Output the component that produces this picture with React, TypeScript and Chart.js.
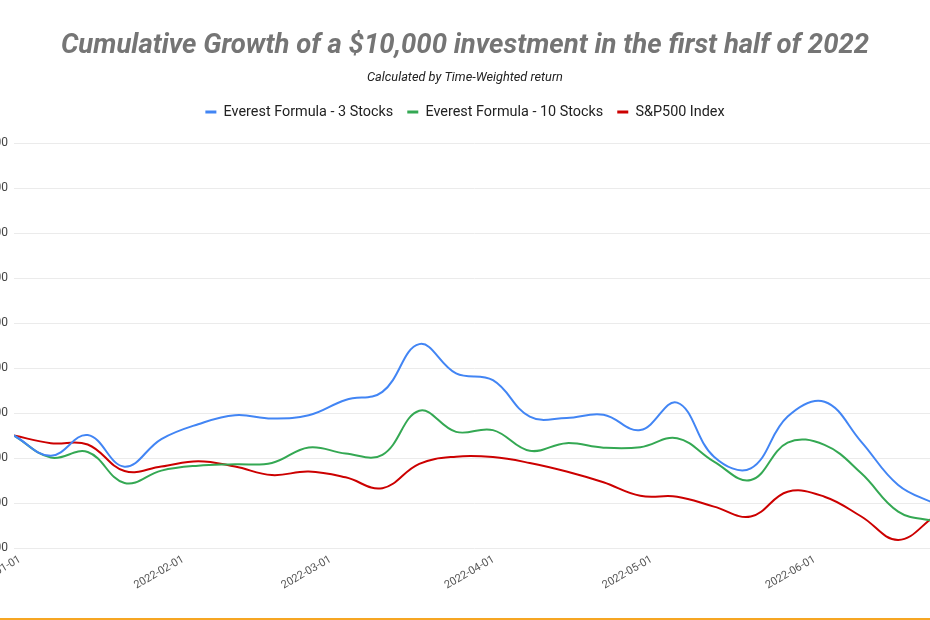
import React, { useEffect, useRef } from 'react';
import { Chart, registerables } from 'chart.js';

Chart.register(...registerables);

// ---- data ----
const dates = [
  '2022-01-01', '2022-01-08', '2022-01-15', '2022-01-22', '2022-01-29',
  '2022-02-05', '2022-02-12', '2022-02-19', '2022-02-26',
  '2022-03-05', '2022-03-12', '2022-03-19', '2022-03-26',
  '2022-04-02', '2022-04-09', '2022-04-16', '2022-04-23', '2022-04-30',
  '2022-05-07', '2022-05-14', '2022-05-21', '2022-05-28',
  '2022-06-04', '2022-06-11', '2022-06-18', '2022-06-25',
];

const threeStocks = [
  10000, 9550, 10010, 9307, 9920,
  10250, 10450, 10380, 10450,
  10790, 10970, 12030, 11380,
  11230, 10420, 10390, 10460, 10120,
  10730, 9530, 9270, 10420,
  10750, 9860, 8900, 8480,
];

const tenStocks = [
  10000, 9510, 9633, 8944, 9220,
  9330, 9360, 9390, 9735,
  9600, 9570, 10550, 10080,
  10120, 9660, 9830, 9730, 9740,
  9940, 9420, 9010, 9840,
  9790, 9160, 8310, 8090,
];

const sp500 = [
  10000, 9830, 9800, 9210, 9310,
  9430, 9310, 9120, 9200,
  9070, 8830, 9370, 9530,
  9520, 9390, 9200, 8960, 8660,
  8640, 8420, 8200, 8750,
  8640, 8200, 7680, 8210,
];

const seriesNames = ['Everest Formula - 3 Stocks', 'Everest Formula - 10 Stocks', 'S&P500 Index'];
const seriesColors = ['#4285F4', '#34A853', '#CC0000'];

const monthTicks = ['2022-01-01', '2022-02-01', '2022-03-01', '2022-04-01', '2022-05-01', '2022-06-01'];

const yMin = 7500;
const yMax = 16500;
const yStep = 1000;

const titleText = 'Cumulative Growth of a $10,000 investment in the first half of 2022';
const subtitleText = 'Calculated by Time-Weighted return';

// ---- helpers ----
const DAY_MS = 86400000;
const t0 = Date.parse(dates[0] + 'T00:00:00Z');
const dayOf = (d: string) => Math.round((Date.parse(d + 'T00:00:00Z') - t0) / DAY_MS);
const tickLabelByDay: Record<number, string> = {};
monthTicks.forEach((d) => { tickLabelByDay[dayOf(d)] = d; });

const legendSpacer = {
  id: 'legendSpacer',
  beforeLayout(chart: any) {
    const legend = chart.legend;
    if (!legend || legend.__spaced) return;
    const fit = legend.fit.bind(legend);
    legend.fit = () => { fit(); legend.height += 13.8; };
    legend.__spaced = true;
  },
};

export default function App() {
  const canvasRef = useRef<HTMLCanvasElement | null>(null);

  useEffect(() => {
    if (!canvasRef.current) return;
    Chart.defaults.font.family = 'Roboto, "Noto Sans", sans-serif';
    const seriesValues = [threeStocks, tenStocks, sp500];
    const chart = new Chart(canvasRef.current, {
      type: 'line',
      data: {
        datasets: seriesValues.map((vals, i) => ({
          label: seriesNames[i],
          data: vals.map((v, j) => ({ x: dayOf(dates[j]), y: v })),
          borderColor: seriesColors[i],
          backgroundColor: seriesColors[i],
          borderWidth: 2,
          pointRadius: 0,
          pointHoverRadius: 0,
          tension: 0.4,
          fill: false,
        })),
      },
      options: {
        animation: false,
        responsive: true,
        maintainAspectRatio: false,
        layout: { padding: 0 },
        plugins: {
          title: {
            display: true,
            text: titleText,
            color: '#757575',
            font: { size: 27.5, weight: 'bold', style: 'italic' },
            padding: { top: 29.5, bottom: 4 },
          },
          subtitle: {
            display: true,
            text: subtitleText,
            color: '#222222',
            font: { size: 12.75, style: 'italic' },
            padding: { top: 3.85, bottom: 5.15 },
          },
          legend: {
            position: 'top',
            labels: {
              boxWidth: 11,
              boxHeight: 3,
              padding: 14,
              color: '#222222',
              font: { size: 14.4 },
              generateLabels: (c: any) =>
                Chart.defaults.plugins.legend.labels.generateLabels(c).map((l: any) => ({
                  ...l,
                  lineWidth: 0,
                  fillStyle: l.strokeStyle,
                })),
            },
          },
          tooltip: { enabled: false },
        },
        scales: {
          x: {
            type: 'linear',
            min: 0,
            max: dayOf(dates[dates.length - 1]),
            grid: { display: false },
            border: { display: false },
            afterBuildTicks: (scale: any) => {
              scale.ticks = monthTicks.map((d) => ({ value: dayOf(d) }));
            },
            afterFit: (scale: any) => {
              scale.height = 72;
              scale.paddingLeft = 0;
              scale.paddingRight = 0;
            },
            ticks: {
              autoSkip: false,
              minRotation: 30,
              maxRotation: 30,
              padding: -3,
              labelOffset: 6,
              color: '#555555',
              font: { size: 11 },
              callback: (v: any) => tickLabelByDay[v as number] ?? '',
            },
          },
          y: {
            min: yMin,
            max: yMax,
            grid: { color: '#ebebeb', drawTicks: false },
            border: { display: false },
            afterFit: (scale: any) => { scale.width = 19; },
            ticks: {
              stepSize: yStep,
              padding: 6,
              color: '#444444',
              font: { size: 12 },
              callback: (v: any) => Number(v).toLocaleString('en-US'),
            },
          },
        },
      },
      plugins: [legendSpacer],
    } as any);
    return () => chart.destroy();
  }, []);

  return (
    <div style={{ position: 'fixed', inset: 0, overflow: 'hidden', background: '#ffffff' }}>
      <div style={{ position: 'absolute', left: -5, top: 0, width: 940, height: 620 }}>
        <canvas ref={canvasRef} />
      </div>
      <div style={{ position: 'absolute', left: 0, right: 0, top: 618, height: 2, background: '#F6A623' }} />
    </div>
  );
}
